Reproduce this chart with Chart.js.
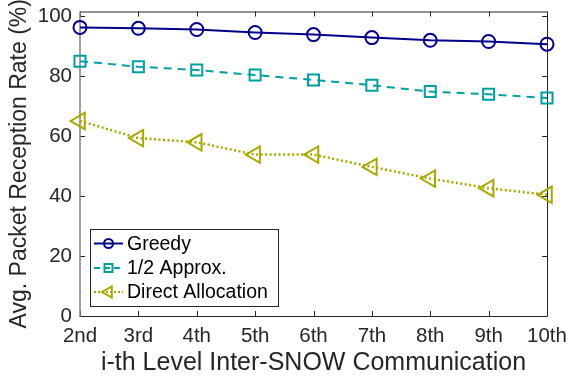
<!DOCTYPE html>
<html>
<head>
<meta charset="utf-8">
<script src="https://cdn.jsdelivr.net/npm/chart.js@4/dist/chart.umd.min.js"></script>
<style>
  html, body { margin: 0; padding: 0; background: #ffffff; }
  #wrap { width: 568px; height: 383px; }
</style>
</head>
<body>
<div id="wrap"><canvas id="c" width="568" height="383"></canvas></div>
<script>
const categories = ['2nd', '3rd', '4th', '5th', '6th', '7th', '8th', '9th', '10th'];
const greedy = [96.2, 95.9, 95.5, 94.5, 93.8, 92.8, 91.9, 91.5, 90.6];
const approx = [84.9, 83.1, 82.0, 80.3, 78.7, 76.9, 74.8, 73.9, 72.7];
const direct = [65.0, 59.3, 57.9, 53.8, 53.8, 49.7, 45.8, 42.6, 40.4];
const yTicks = [0, 20, 40, 60, 80, 100];
const seriesNames = ['Greedy', '1/2 Approx.', 'Direct Allocation'];

const FONT = "'Liberation Sans', Arial, Helvetica, sans-serif";
const TXT = '#262626';
const C_GREEDY = '#00008B';
const C_APPROX = '#00A0A0';
const C_DIRECT = '#A8A800';

const boxPlugin = {
  id: 'boxPlugin',
  beforeDatasetsDraw(chart) {
    const {ctx, chartArea: a, scales: {x, y}} = chart;
    ctx.save();
    const tl = 5;
    ctx.lineWidth = 1;
    ctx.strokeStyle = TXT;
    categories.forEach((c, i) => {
      const px = Math.round(x.getPixelForValue(i)) + 0.5;
      ctx.beginPath();
      ctx.moveTo(px, a.bottom); ctx.lineTo(px, a.bottom - tl);
      ctx.moveTo(px, a.top); ctx.lineTo(px, a.top + tl);
      ctx.stroke();
    });
    yTicks.forEach(v => {
      const py = Math.round(y.getPixelForValue(v)) + 0.5;
      ctx.beginPath();
      ctx.moveTo(a.left, py); ctx.lineTo(a.left + tl, py);
      ctx.moveTo(a.right, py); ctx.lineTo(a.right - tl, py);
      ctx.stroke();
    });
    ctx.beginPath();
    ctx.moveTo(a.left, a.top + 0.5); ctx.lineTo(a.right + 0.5, a.top + 0.5);
    ctx.lineTo(a.right + 0.5, a.bottom + 0.5); ctx.lineTo(a.left, a.bottom + 0.5);
    ctx.stroke();
    ctx.strokeStyle = '#808080';
    ctx.lineWidth = 1.5;
    ctx.beginPath();
    ctx.moveTo(a.left, a.top); ctx.lineTo(a.left, a.bottom + 1);
    ctx.stroke();
    ctx.restore();
  }
};

function drawMarker(ctx, style, cx, cy, r, color) {
  ctx.save();
  ctx.strokeStyle = color;
  ctx.lineWidth = 2;
  ctx.setLineDash([]);
  ctx.beginPath();
  if (style === 'circle') {
    ctx.arc(cx, cy, r, 0, Math.PI * 2);
  } else if (style === 'rect') {
    ctx.rect(cx - r, cy - r, 2 * r, 2 * r);
  } else {
    ctx.moveTo(cx - r, cy);
    ctx.lineTo(cx + r * 0.5, cy - r * 0.866);
    ctx.lineTo(cx + r * 0.5, cy + r * 0.866);
    ctx.closePath();
  }
  ctx.stroke();
  ctx.restore();
}

const legendPlugin = {
  id: 'legendPlugin',
  afterDatasetsDraw(chart) {
    const {ctx} = chart;
    const bx = 90.5, by = 229.5, bw = 188, bh = 77;
    ctx.save();
    ctx.fillStyle = '#ffffff';
    ctx.fillRect(bx, by, bw, bh);
    ctx.strokeStyle = TXT;
    ctx.lineWidth = 1;
    ctx.strokeRect(bx, by, bw, bh);
    const rows = [243.5, 268, 292];
    const styles = [
      {m: 'circle', r: 4.5, dash: [], color: C_GREEDY, lw: 2},
      {m: 'rect', r: 4, dash: [6, 4], color: C_APPROX, lw: 2},
      {m: 'tri', r: 6.5, dash: [2, 2], color: C_DIRECT, lw: 2}
    ];
    chart.data.datasets.forEach((ds, i) => {
      const s = styles[i];
      const yy = rows[i];
      ctx.strokeStyle = s.color;
      ctx.lineWidth = s.lw;
      ctx.setLineDash(s.dash);
      ctx.beginPath();
      ctx.moveTo(94, yy); ctx.lineTo(123, yy);
      ctx.stroke();
      ctx.setLineDash([]);
      drawMarker(ctx, s.m, 108.5, yy, s.r, s.color);
      ctx.fillStyle = '#000000';
      ctx.font = '19.5px ' + FONT;
      ctx.textAlign = 'left';
      ctx.textBaseline = 'middle';
      ctx.fillText(ds.label, 127, yy + 1);
    });
    ctx.restore();
  }
};

new Chart(document.getElementById('c'), {
  type: 'line',
  data: {
    labels: categories,
    datasets: [
      {
        label: seriesNames[0], data: greedy,
        borderColor: C_GREEDY, borderWidth: 2,
        pointStyle: 'circle', pointRadius: 6.5, pointBorderWidth: 2,
        pointBorderColor: C_GREEDY, pointBackgroundColor: 'rgba(0,0,0,0)',
        tension: 0, clip: false
      },
      {
        label: seriesNames[1], data: approx,
        borderColor: C_APPROX, borderWidth: 2, borderDash: [8, 6],
        pointStyle: 'rect', pointRadius: 7.8, pointBorderWidth: 2,
        pointBorderColor: C_APPROX, pointBackgroundColor: 'rgba(0,0,0,0)',
        tension: 0, clip: false
      },
      {
        label: seriesNames[2], data: direct,
        borderColor: C_DIRECT, borderWidth: 2.5, borderDash: [2, 2.5],
        pointStyle: 'triangle', pointRotation: -90, pointRadius: 9.5, pointBorderWidth: 2,
        pointBorderColor: C_DIRECT, pointBackgroundColor: 'rgba(0,0,0,0)',
        tension: 0, clip: false
      }
    ]
  },
  options: {
    responsive: false,
    animation: false,
    devicePixelRatio: 1,
    layout: { padding: { left: 0, right: 21, top: 5, bottom: 0 } },
    plugins: { legend: { display: false }, tooltip: { enabled: false }, title: { display: false } },
    scales: {
      x: {
        type: 'category',
        offset: false,
        grid: { display: false, drawTicks: false },
        border: { display: false },
        ticks: { font: { family: FONT, size: 20.5 }, color: TXT, padding: 8, maxRotation: 0, autoSkip: false },
        title: { display: true, text: 'i-th Level Inter-SNOW Communication', color: TXT,
                 font: { family: FONT, size: 25 }, padding: { top: 0, bottom: 5 } },
        afterFit(s) { s.height = 67; s.paddingLeft = 0; s.paddingRight = 0; }
      },
      y: {
        type: 'linear',
        min: 0, max: 101.5,
        grid: { display: false, drawTicks: false },
        border: { display: false },
        afterBuildTicks(s) { s.ticks = yTicks.map(v => ({ value: v })); },
        ticks: { font: { family: FONT, size: 20.5 }, color: TXT, padding: 8 },
        title: { display: true, text: 'Avg. Packet Reception Rate (%)', color: TXT,
                 font: { family: FONT, size: 23 }, padding: { top: 6.2, bottom: 0 } },
        afterFit(s) { s.width = 80; s.paddingTop = 0; s.paddingBottom = 0; }
      }
    }
  },
  plugins: [boxPlugin, legendPlugin]
});
</script>
</body>
</html>
